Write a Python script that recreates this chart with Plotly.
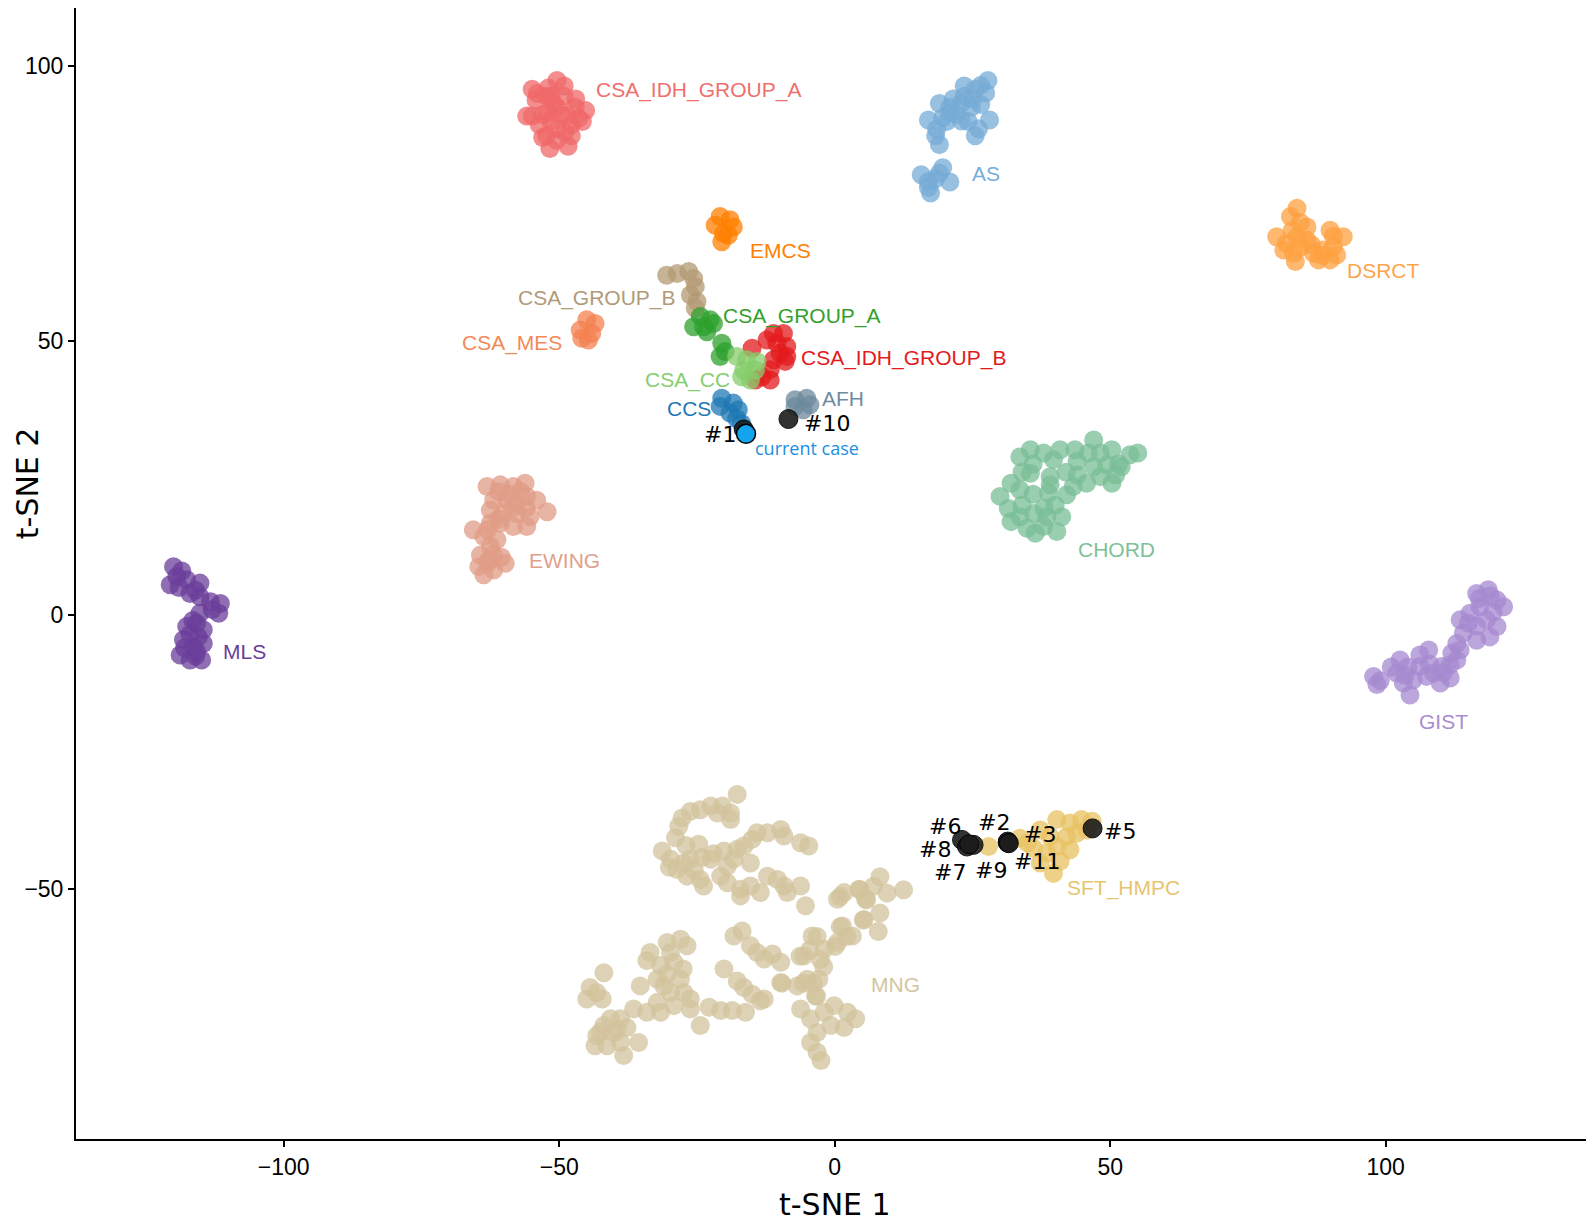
import plotly.graph_objects as go

# ---------------- data (t-SNE coordinates) ----------------
CSA_IDH_GROUP_A_x = [-54.9, -50.4, -49.1, -54.2, -52.3, -51.0, -53.0, -54.9, -49.7, -47.1, -45.2, -45.8, -47.8, -50.4, -52.3, -51.7, -48.4, -47.8, -53.6, -50.4, -49.1, -55.9, -52.0, -51.5, -49.0, -53.0, -47.0, -54.0, -51.5, -48.5, -46.5, -52.0, -50.5]
CSA_IDH_GROUP_A_y = [95.8, 97.4, 96.4, 93.8, 94.5, 93.2, 91.2, 90.9, 91.2, 92.5, 91.9, 89.9, 89.3, 88.6, 87.3, 85.0, 85.4, 87.3, 89.3, 92.5, 94.5, 90.9, 96.0, 90.0, 88.0, 87.0, 94.0, 95.0, 94.5, 91.0, 90.5, 91.5, 86.5]

AS_x = [17.0, 19.0, 20.9, 19.6, 22.2, 23.5, 25.5, 27.8, 27.4, 24.8, 24.2, 26.1, 28.1, 25.5, 18.3, 19.0, 20.3, 22.9, 15.7, 17.0, 19.6, 20.9, 18.3, 17.4, 21.5, 23.5, 26.5, 25.0, 26.5, 21.0, 23.0, 18.5, 17.0, 19.0]
AS_y = [90.2, 93.2, 92.5, 90.6, 91.2, 96.4, 95.8, 97.4, 95.1, 92.5, 89.9, 88.6, 90.2, 87.3, 87.3, 85.7, 89.9, 93.2, 80.2, 77.9, 81.5, 78.9, 79.5, 76.9, 94.0, 94.5, 93.0, 94.0, 96.5, 91.5, 90.0, 88.5, 79.0, 80.5]

EMCS_x = [-20.8, -19.0, -18.4, -21.7, -20.2, -20.5, -19.3]
EMCS_y = [72.6, 72.0, 70.7, 71.0, 69.5, 68.0, 69.2]

DSRCT_x = [83.9, 82.7, 85.7, 80.2, 82.0, 83.9, 85.7, 83.3, 83.6, 86.9, 87.8, 89.9, 90.5, 89.9, 92.3, 91.1, 81.5, 84.5, 88.5, 84.5, 86.5, 83.0, 90.5, 88.5]
DSRCT_y = [74.1, 72.6, 70.7, 68.9, 67.7, 68.9, 68.3, 65.9, 64.4, 65.9, 64.7, 64.7, 67.1, 70.1, 68.9, 65.6, 66.5, 67.0, 66.5, 71.5, 67.5, 70.0, 69.0, 65.5]

CSA_GROUP_B_x = [-30.5, -28.6, -26.5, -25.6, -25.3, -26.2, -25.0, -25.3]
CSA_GROUP_B_y = [61.9, 62.2, 62.6, 61.3, 59.8, 58.3, 57.1, 55.9]

CSA_MES_x = [-45.0, -43.5, -46.2, -44.1, -45.9, -44.7]
CSA_MES_y = [53.8, 53.1, 51.9, 51.3, 50.4, 50.1]

CSA_GROUP_A_x = [-24.4, -22.6, -25.6, -23.8, -22.0, -23.2, -20.5, -19.9, -20.8]
CSA_GROUP_A_y = [54.4, 53.8, 52.5, 52.5, 53.1, 51.6, 49.5, 48.0, 47.1]

CSA_IDH_GROUP_B_x = [-11.1, -9.3, -12.3, -10.5, -8.7, -9.9, -9.0, -11.1, -11.7, -13.2, -14.4, -15.0, -8.7, -11.7]
CSA_IDH_GROUP_B_y = [51.3, 51.3, 50.1, 49.5, 48.9, 47.7, 46.2, 46.5, 44.7, 43.4, 42.8, 48.6, 47.1, 42.8]

CSA_CC_x = [-17.8, -16.0, -14.1, -16.5, -14.4, -15.3, -16.9]
CSA_CC_y = [47.1, 46.5, 46.2, 44.6, 44.6, 42.8, 43.4]

CCS_x = [-20.5, -18.4, -20.8, -17.5, -19.0, -17.8, -16.9]
CCS_y = [39.5, 38.6, 38.0, 37.4, 36.8, 35.8, 34.9]

AFH_x = [-7.2, -5.1, -5.7, -4.5, -7.2]
AFH_y = [39.2, 39.5, 37.4, 38.3, 38.0]

CHORD_x = [33.6, 35.5, 37.9, 39.7, 40.9, 43.6, 47.0, 48.2, 50.3, 53.6, 49.4, 47.0, 48.2, 50.3, 45.7, 43.3, 42.1, 39.1, 38.8, 39.1, 35.5, 33.6, 30.0, 31.5, 33.6, 36.1, 37.9, 40.3, 41.2, 34.9, 38.5, 36.4, 32.0, 51.5,
           44.0, 46.0, 52.0, 55.0, 42.0, 36.0, 34.0, 32.0, 36.0, 40.0, 34.0, 38.0, 44.0, 51.0]
CHORD_y = [28.8, 30.1, 29.5, 28.3, 30.1, 30.1, 31.9, 29.5, 30.1, 29.2, 27.3, 27.0, 25.2, 24.0, 24.0, 23.4, 21.9, 23.7, 22.2, 25.2, 25.8, 22.8, 21.6, 19.4, 17.9, 18.5, 16.1, 15.2, 17.9, 15.8, 17.9, 14.9, 17.0, 27.5,
           28.0, 29.5, 27.0, 29.5, 26.0, 27.5, 26.0, 24.0, 22.0, 20.0, 20.0, 19.5, 25.5, 25.5]

EWING_x = [-63.1, -60.7, -58.3, -56.2, -55.9, -54.1, -52.2, -61.9, -59.5, -57.7, -62.5, -60.1, -57.7, -55.3, -55.9, -58.3, -60.7, -62.5, -65.6, -63.7, -61.3, -62.5, -64.3, -64.6, -61.9, -59.8, -63.7, -62.8,
           -57.0, -59.0, -61.0, -56.0, -58.5, -61.0, -63.0, -62.0, -63.0, -60.5]
EWING_y = [23.4, 23.7, 23.4, 24.0, 21.6, 20.9, 18.8, 20.9, 20.9, 20.3, 19.1, 18.5, 18.5, 17.9, 16.1, 16.1, 16.7, 16.7, 15.5, 14.3, 13.7, 12.5, 10.9, 8.8, 8.2, 9.4, 7.3, 10.0,
           22.5, 22.0, 22.5, 19.5, 19.5, 17.5, 15.5, 11.0, 9.5, 10.5]

MLS_x = [-120.0, -120.6, -119.4, -117.6, -115.2, -117.0, -115.2, -113.3, -111.5, -111.8, -115.2, -115.8, -114.6, -117.6, -118.2, -116.4, -114.6, -118.8, -117.0, -114.9, -115.8,
         -118.5, -119.0, -116.0, -113.0, -116.5, -117.0, -115.5, -118.0, -116.0]
MLS_y = [8.8, 5.5, 7.0, 6.4, 5.8, 3.9, 3.3, 2.4, 2.1, 0.3, 0.3, -1.5, -2.7, -2.1, -4.5, -5.8, -5.2, -7.3, -8.2, -8.2, -6.7,
         8.0, 5.0, 4.5, 1.0, -1.0, -3.5, -4.0, -6.0, -7.5]

GIST_x = [116.5, 118.6, 120.2, 121.4, 117.1, 115.3, 113.5, 118.3, 120.2, 118.9, 116.5, 114.1, 112.9, 113.5, 111.7, 112.9, 110.2, 108.7, 109.9, 111.7, 107.8, 106.2, 106.2, 105.0, 102.6, 102.0, 103.2, 104.4, 97.8, 98.4, 107.4,
          119.0, 117.0, 119.5, 116.5, 115.0, 112.0, 110.5, 108.0, 104.0, 103.5, 101.0, 99.0]
GIST_y = [3.9, 4.6, 2.7, 1.5, 1.5, 0.3, -0.9, -0.9, -2.1, -4.0, -4.6, -3.3, -5.2, -6.4, -9.1, -8.2, -9.4, -10.6, -12.4, -11.5, -6.4, -7.3, -9.4, -11.8, -8.2, -10.6, -12.4, -14.6, -11.2, -12.7, -11.2,
          3.5, 3.0, 0.5, -2.0, -1.5, -7.0, -10.5, -9.0, -9.5, -11.0, -9.5, -12.0]

SFT_HMPC_x = [27.9, 33.6, 37.3, 40.3, 42.7, 44.8, 46.7, 39.1, 42.1, 43.9, 40.3, 42.7, 38.5, 40.9, 39.7, 37.3, 36.1, 45.8, 35.0]
SFT_HMPC_y = [-42.2, -40.7, -39.2, -37.3, -37.9, -37.3, -37.6, -40.4, -40.4, -39.8, -42.2, -42.8, -43.4, -44.9, -47.1, -45.2, -42.5, -39.2, -41.5]

MNG_x = [-17.7, -18.9, -20.4, -22.5, -24.4, -26.2, -27.7, -28.3, -28.9, -31.3, -29.8, -28.6, -26.8, -24.4, -23.8,
         -24.7, -24.1, -26.2, -27.4, -22.5, -20.1, -17.7, -16.5, -15.0, -14.1, -12.2, -9.8, -9.2, -6.2, -4.7,
         -15.3, -20.7, -19.5, -17.1, -17.1, -15.3, -13.5, -12.2, -10.4, -9.2, -8.6, -6.2, -5.3, -18.9, -21.3, -19.5, -18.3,
         -41.9, -44.4, -45.0, -42.2, -43.2, -40.7, -41.9, -43.2, -43.5, -41.3, -38.9, -38.3, -35.6, -40.1, -37.7, -38.9,
         -35.3, -36.5, -34.1, -33.5, -34.1, -30.4, -28.0, -26.8, -29.8, -29.2, -31.6, -32.2, -31.0, -29.8, -28.0, -27.4,
         -26.2, -26.2, -29.2, -32.2, -31.6,
         -24.4, -22.8, -20.7, -18.6, -16.2,
         -20.1, -17.7, -16.5, -15.0, -13.5, -12.8,
         -18.3, -16.8, -15.3, -14.1, -12.8, -11.3, -9.8,
         -9.8, -6.8, -5.0, -2.9, -3.5, -6.2, -4.4, -1.9, -0.1, 2.3, 3.8, 1.7, -0.7, -3.2, -4.4, -3.2, -2.5,
         -5.6, -4.1, -1.9, 0.5, 1.4, 3.2, 0.5, 1.7, 4.4, 5.6, 5.3,
         1.0, 4.6, 8.2, 7.0, 5.8, 9.5, 12.5, 8.2, 5.2, 7.9, 1.0, 2.2, 0.1, -3.2, -4.5, -6.3, -2.6, -2.0, -3.9, -5.7, -3.3, -9.6,
         -25.5, -22.0, -27.0, -30.0, -39.5, -42.5, -30.5, -27.5]
MNG_y = [-32.7, -36.1, -34.8, -34.8, -35.5, -35.8, -37.0, -38.5, -40.6, -43.0, -44.5, -46.4, -47.6, -48.2, -49.4,
         -41.8, -44.2, -44.5, -45.2, -44.5, -43.0, -42.7, -42.1, -40.9, -39.7, -39.7, -39.1, -40.3, -41.5, -42.1,
         -45.2, -47.6, -48.8, -50.0, -51.2, -49.4, -50.6, -47.6, -48.2, -49.4, -50.6, -49.4, -53.0, -37.3, -36.1, -45.8, -44.5,
         -65.2, -67.9, -70.0, -70.0, -68.8, -73.6, -74.8, -76.7, -78.5, -78.5, -77.9, -80.3, -77.9, -76.1, -75.2, -73.6,
         -67.6, -71.8, -72.4, -61.5, -63.0, -59.7, -59.1, -60.3, -61.5, -63.3, -63.9, -66.4, -67.6, -68.8, -66.4, -68.8,
         -70.0, -71.8, -71.2, -70.6, -72.4,
         -74.8, -71.5, -72.1, -72.1, -72.4,
         -64.5, -66.7, -67.9, -69.1, -70.3, -70.0,
         -58.5, -57.6, -60.3, -61.5, -62.7, -61.8, -63.3,
         -67.0, -67.6, -66.4, -66.4, -69.4, -71.8, -73.6, -72.4, -71.2, -72.4, -73.6, -75.2, -74.8, -76.1, -77.9, -79.7, -81.2,
         -62.1, -58.5, -60.9, -59.7, -56.7, -58.5, -51.8, -50.6, -50.0, -51.8, -55.5,
         -51.3, -50.1, -47.7, -49.5, -51.9, -50.7, -50.1, -54.3, -55.6, -57.7, -56.8, -58.6, -60.4, -58.6, -61.0, -62.2, -62.8, -64.1, -67.1, -67.1, -69.5, -67.1,
         -46.5, -43.5, -42.0, -46.0, -75.5, -76.0, -65.5, -64.5]

# reference cases (black) and current case
ref_cases = ["#1", "#10", "#6", "#8", "#7", "#2", "#3", "#9", "#11", "#5"]
ref_x = [-16.5, -8.4, 23.1, 24.0, 25.2, 31.4, 31.4, 24.4, 31.6, 46.8]
ref_y = [33.8, 35.7, -41.0, -42.2, -41.9, -41.5, -41.3, -41.8, -41.6, -38.9]
ref_label_x = [-20.9, -1.4, 20.0, 18.2, 20.9, 28.9, 37.2, 28.3, 36.7, 51.8]
ref_label_y = [32.8, 34.9, -38.6, -42.8, -46.9, -37.8, -40.1, -46.5, -44.9, -39.5]

current_x = [-16.1]
current_y = [33.0]

groups = ["CSA_IDH_GROUP_A", "AS", "EMCS", "DSRCT", "CSA_GROUP_B", "CSA_MES", "CSA_GROUP_A",
          "CSA_IDH_GROUP_B", "CSA_CC", "CCS", "AFH", "CHORD", "EWING", "MLS", "GIST", "SFT_HMPC", "MNG"]
group_x = [CSA_IDH_GROUP_A_x, AS_x, EMCS_x, DSRCT_x, CSA_GROUP_B_x, CSA_MES_x, CSA_GROUP_A_x,
           CSA_IDH_GROUP_B_x, CSA_CC_x, CCS_x, AFH_x, CHORD_x, EWING_x, MLS_x, GIST_x, SFT_HMPC_x, MNG_x]
group_y = [CSA_IDH_GROUP_A_y, AS_y, EMCS_y, DSRCT_y, CSA_GROUP_B_y, CSA_MES_y, CSA_GROUP_A_y,
           CSA_IDH_GROUP_B_y, CSA_CC_y, CCS_y, AFH_y, CHORD_y, EWING_y, MLS_y, GIST_y, SFT_HMPC_y, MNG_y]
label_x = [-24.8, 27.4, -9.9, 99.6, -43.2, -58.6, -6.0, 12.4, -26.8, -26.5, 1.5, 51.2, -49.0, -107.2, 110.4, 52.4, 11.1]
label_y = [95.6, 80.4, 66.5, 62.7, 57.7, 49.5, 54.4, 46.8, 42.8, 37.6, 39.5, 12.0, 10.0, -6.7, -19.4, -49.8, -67.3]

x_title = "t-SNE 1"
y_title = "t-SNE 2"

# ---------------- styles ----------------
colors = {
    "CSA_IDH_GROUP_A": "#F06868", "AS": "#76ABD6", "EMCS": "#FF7F00", "DSRCT": "#FDA040",
    "CSA_GROUP_B": "#B39973", "CSA_MES": "#F4804F", "CSA_GROUP_A": "#2CA02C",
    "CSA_IDH_GROUP_B": "#E31A1C", "CSA_CC": "#86CC6B", "CCS": "#1F78B4", "AFH": "#6C889C",
    "CHORD": "#78BD96", "EWING": "#E09C85", "MLS": "#6A3D9A", "GIST": "#A68AD0",
    "SFT_HMPC": "#E8C262", "MNG": "#D2C39C",
}
label_colors = {
    "CSA_IDH_GROUP_A": "#EF6F6F", "AS": "#78AEDB", "EMCS": "#FF7F00", "DSRCT": "#FCA54A",
    "CSA_GROUP_B": "#B09A7A", "CSA_MES": "#F38A5A", "CSA_GROUP_A": "#33A02C",
    "CSA_IDH_GROUP_B": "#E31A1C", "CSA_CC": "#86CE6E", "CCS": "#1F78B4", "AFH": "#6F8C9F",
    "CHORD": "#7DBF99", "EWING": "#E0A08A", "MLS": "#6A3D9A", "GIST": "#A98CCF",
    "SFT_HMPC": "#E6C56F", "MNG": "#D3C5A0",
}

fig = go.Figure()
MS = 19
for g, xs, ys in zip(groups, group_x, group_y):
    fig.add_trace(go.Scatter(x=xs, y=ys, mode="markers", name=g,
                             marker=dict(size=MS, color=colors[g], opacity=0.75, line=dict(width=0))))

fig.add_trace(go.Scatter(x=ref_x, y=ref_y, mode="markers", name="reference cases",
                         marker=dict(size=MS, color="#1C1C1C", opacity=0.9, line=dict(width=1, color="black"))))
fig.add_trace(go.Scatter(x=current_x, y=current_y, mode="markers", name="current case",
                         marker=dict(size=MS, color="#12A4EC", line=dict(width=1.5, color="black"))))

for g, lx, ly in zip(groups, label_x, label_y):
    fig.add_annotation(x=lx, y=ly, text=g, showarrow=False,
                       font=dict(family="Liberation Sans, Arial", size=21, color=label_colors[g]))
for t, lx, ly in zip(ref_cases, ref_label_x, ref_label_y):
    fig.add_annotation(x=lx, y=ly, text=t, showarrow=False,
                       font=dict(family="DejaVu Sans, Verdana", size=22, color="black"))
fig.add_annotation(x=-5.1, y=30.4, text="current case", showarrow=False,
                   font=dict(family="Open Sans, DejaVu Sans", size=18, color="#1A8FE3"))

# axis titles placed as annotations (the y title sits above the plot's centre in the reference)
title_font = dict(family="DejaVu Sans, Verdana", size=30, color="black")
fig.add_annotation(xref="x", yref="paper", x=0, y=-0.058, text=x_title, showarrow=False,
                   font=title_font, xanchor="center", yanchor="middle")
fig.add_annotation(xref="paper", yref="paper", x=-0.045, y=0.58, text=y_title, showarrow=False,
                   font=title_font, textangle=-90, xanchor="left", yanchor="middle")

axis_common = dict(showgrid=False, zeroline=False, showline=True, linecolor="black", linewidth=2,
                   ticks="outside", ticklen=6, tickwidth=2, tickcolor="black",
                   tickfont=dict(family="Liberation Sans, Arial", size=23, color="black"),
                   mirror=False, automargin=False)
fig.update_xaxes(range=[-137.7, 137.8], tickvals=[-100, -50, 0, 50, 100], **axis_common)
fig.update_yaxes(range=[-95.5, 110.6], tickvals=[-50, 0, 50, 100], **axis_common)

# the page body adds an 8px margin, so the figure is sized to fit the 1594x1224 window
fig.update_layout(width=1586, height=1216, showlegend=False,
                  plot_bgcolor="white", paper_bgcolor="white",
                  margin=dict(l=68, r=0, t=0, b=85))

fig.write_html("out.html")
